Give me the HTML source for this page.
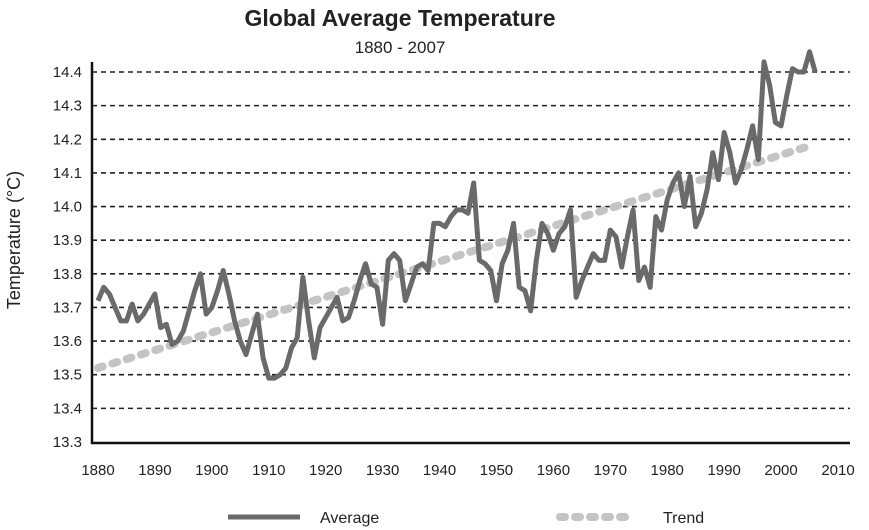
<!DOCTYPE html>
<html><head><meta charset="utf-8"><style>
body{margin:0;background:#fff}
svg{display:block;font-family:"Liberation Sans",sans-serif}
</style></head><body>
<svg id="c" width="869" height="530">
<text x="400" y="26" text-anchor="middle" font-size="23" font-weight="bold" fill="#222">Global Average Temperature</text>
<text x="400" y="53" text-anchor="middle" font-size="17" fill="#222">1880 - 2007</text>
<text transform="translate(20,240) rotate(-90)" text-anchor="middle" font-size="18" fill="#222">Temperature  (°C)</text>
<g id="grid"></g><g id="ylab"></g><g id="xlab"></g>
<line x1="92" y1="62" x2="92" y2="444" stroke="#111" stroke-width="2.5"/>
<line x1="91" y1="443" x2="850" y2="443" stroke="#111" stroke-width="2.5"/>
<line id="trend" stroke="#c4c4c4" stroke-width="8" stroke-linecap="round" stroke-dasharray="5 10"/>
<polyline id="avg" fill="none" stroke="#6a6a6a" stroke-width="5" stroke-linejoin="round"/>
<line x1="228" y1="517" x2="300" y2="517" stroke="#6a6a6a" stroke-width="5"/>
<text x="320" y="523" font-size="16" fill="#222">Average</text>
<line x1="560" y1="517" x2="633" y2="517" stroke="#c4c4c4" stroke-width="8" stroke-linecap="round" stroke-dasharray="5 10"/>
<text x="663" y="523" font-size="16" fill="#222">Trend</text>
</svg>
<script>
const startYear = 1880;
const avgValues = [13.72,13.76,13.74,13.70,13.66,13.66,13.71,13.66,13.68,13.71,13.74,13.64,13.65,13.59,13.60,13.63,13.69,13.75,13.80,13.68,13.70,13.75,13.81,13.74,13.66,13.60,13.56,13.62,13.68,13.55,13.49,13.49,13.50,13.52,13.58,13.61,13.79,13.66,13.55,13.64,13.67,13.70,13.73,13.66,13.67,13.72,13.78,13.83,13.77,13.76,13.65,13.84,13.86,13.84,13.72,13.77,13.82,13.83,13.81,13.95,13.95,13.94,13.97,13.99,13.99,13.98,14.07,13.84,13.83,13.81,13.72,13.83,13.87,13.95,13.76,13.75,13.69,13.84,13.95,13.92,13.87,13.92,13.94,13.99,13.73,13.78,13.82,13.86,13.84,13.84,13.93,13.91,13.82,13.91,13.99,13.78,13.82,13.76,13.97,13.93,14.02,14.07,14.10,14.00,14.09,13.94,13.98,14.05,14.16,14.08,14.22,14.16,14.07,14.11,14.17,14.24,14.14,14.43,14.36,14.25,14.24,14.33,14.41,14.40,14.40,14.46,14.40];
const trendYears = [1880, 2005];
const trendValues = [13.52, 14.18];
const yTicks = [13.3,13.4,13.5,13.6,13.7,13.8,13.9,14.0,14.1,14.2,14.3,14.4];
const xTicks = [1880,1890,1900,1910,1920,1930,1940,1950,1960,1970,1980,1990,2000,2010];
const X = yr => 98 + (yr - 1880) * (740 / 130);
const Y = v => 442 - (v - 13.3) * (370 / 1.1);
const NS = "http://www.w3.org/2000/svg";
const grid = document.getElementById('grid'), yl = document.getElementById('ylab'), xl = document.getElementById('xlab');
yTicks.forEach(t => {
  if (t > 13.35) {
    const l = document.createElementNS(NS, 'line');
    l.setAttribute('x1', 92); l.setAttribute('x2', 850);
    l.setAttribute('y1', Y(t)); l.setAttribute('y2', Y(t));
    l.setAttribute('stroke', '#222'); l.setAttribute('stroke-width', '1.6'); l.setAttribute('stroke-dasharray', '5 4');
    
    
    grid.appendChild(l);
  }
  const tx = document.createElementNS(NS, 'text');
  tx.setAttribute('x', 82); tx.setAttribute('y', Y(t) + 5);
  tx.setAttribute('text-anchor', 'end'); tx.setAttribute('font-size', '15'); tx.setAttribute('fill', '#222');
  tx.textContent = t.toFixed(1);
  
  
  yl.appendChild(tx);
});
xTicks.forEach(t => {
  const tx = document.createElementNS(NS, 'text');
  tx.setAttribute('x', X(t)); tx.setAttribute('y', 475);
  tx.setAttribute('text-anchor', 'middle'); tx.setAttribute('font-size', '15'); tx.setAttribute('fill', '#222');
  tx.textContent = t;
  
  
  xl.appendChild(tx);
});
const tr = document.getElementById('trend');
tr.setAttribute('x1', X(trendYears[0])); tr.setAttribute('y1', Y(trendValues[0]));
tr.setAttribute('x2', X(trendYears[1])); tr.setAttribute('y2', Y(trendValues[1]));
document.getElementById('avg').setAttribute('points', avgValues.map((v, i) => X(startYear + i) + ',' + Y(v)).join(' '));
</script>
</body></html>
